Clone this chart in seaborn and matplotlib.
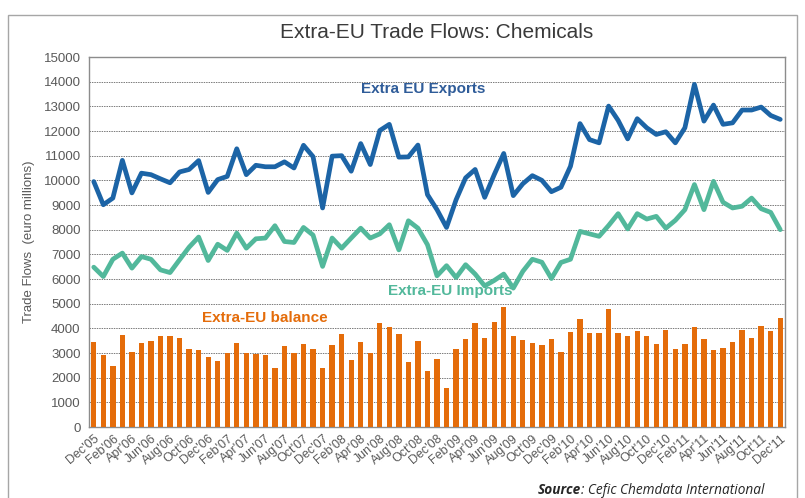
import matplotlib
matplotlib.use("Agg")
import numpy as np
import pandas as pd
import matplotlib.pyplot as plt
import seaborn as sns
from matplotlib.patches import Rectangle

BLUE   = "#1C64A6"
TEAL   = "#52B89B"
ORANGE = "#E46C0A"
GRID   = "#7A7A7A"
MUTED  = "#595959"
FONT   = ["Liberation Sans Narrow", "Liberation Sans", "DejaVu Sans"]

# monthly data, Dec'05 .. Dec'11 (euro millions)
months = pd.date_range("2005-12-01", periods=73, freq="MS").strftime("%b'%y").tolist()

exports = [9950, 9010, 9280, 10810, 9490, 10290, 10230, 10060, 9900, 10340,
           10440, 10800, 9510, 10030, 10160, 11280, 10230, 10610, 10550, 10550,
           10750, 10500, 11420, 10960, 8880, 10980, 11000, 10370, 11490, 10640,
           12020, 12270, 10940, 10950, 11430, 9420, 8810, 8090, 9210, 10100,
           10440, 9310, 10230, 11090, 9380, 9860, 10190, 10000, 9540, 9720,
           10570, 12300, 11650, 11520, 13010, 12430, 11680, 12500, 12130, 11860,
           11970, 11520, 12130, 13890, 12400, 13050, 12270, 12330, 12850, 12850,
           12970, 12630, 12470]

imports = [6480, 6100, 6800, 7050, 6440, 6910, 6800, 6370, 6260, 6780,
           7290, 7700, 6750, 7410, 7160, 7860, 7250, 7630, 7660, 8160,
           7520, 7480, 8090, 7780, 6510, 7660, 7250, 7660, 8060, 7660,
           7830, 8200, 7180, 8360, 8060, 7390, 6130, 6540, 6060, 6580,
           6200, 5720, 5940, 6200, 5630, 6310, 6800, 6680, 6020, 6670,
           6800, 7930, 7830, 7730, 8170, 8650, 8030, 8650, 8430, 8540,
           8060, 8380, 8810, 9830, 8810, 9960, 9110, 8880, 8950, 9280,
           8850, 8700, 8000]

balance = [3450, 2920, 2470, 3740, 3050, 3420, 3470, 3700, 3680, 3620,
           3160, 3110, 2840, 2660, 3010, 3420, 3010, 2960, 2910, 2410,
           3280, 3010, 3350, 3180, 2380, 3310, 3770, 2720, 3430, 3000,
           4220, 4050, 3770, 2620, 3500, 2270, 2770, 1570, 3160, 3550,
           4220, 3620, 4240, 4860, 3700, 3530, 3420, 3320, 3550, 3050,
           3860, 4390, 3810, 3810, 4800, 3810, 3680, 3890, 3700, 3350,
           3950, 3160, 3350, 4070, 3580, 3140, 3190, 3460, 3950, 3620,
           4110, 3880, 4430]

df = pd.DataFrame({"idx": np.arange(len(months)), "month": months,
                   "exports": exports, "imports": imports, "balance": balance})

sns.set_style("white")
plt.rcParams["font.family"] = FONT

fig = plt.figure(figsize=(8.05, 4.98), dpi=100)
fig.patch.set_facecolor("white")

# light frame round the whole chart
fig.add_artist(Rectangle((8/805, -0.05), 789/805, 1.05 - 15/498,
                         transform=fig.transFigure, fill=False,
                         edgecolor="#A6A6A6", linewidth=1.0))

ax = fig.add_axes([89/805, 71/498, 696/805, 370/498])

sns.barplot(data=df, x="idx", y="balance", color=ORANGE, width=0.56,
            saturation=1, linewidth=0, ax=ax, zorder=3)
sns.lineplot(data=df, x="idx", y="exports", color=BLUE, linewidth=3.4, ax=ax, zorder=4)
sns.lineplot(data=df, x="idx", y="imports", color=TEAL, linewidth=3.4, ax=ax, zorder=4)

ax.set_xlim(-0.5, len(months) - 0.5)
ax.set_ylim(0, 15000)
ax.set_yticks(range(0, 15001, 1000))
ax.set_yticklabels([str(v) for v in range(0, 15001, 1000)], fontsize=9.5, color=MUTED)
ax.yaxis.grid(True, color=GRID, linestyle=(0, (1.5, 1)), linewidth=0.7, zorder=0)
ax.set_axisbelow(True)
ax.tick_params(axis="y", length=3, color="#999999", pad=3)

ticks = list(range(0, len(months), 2))
ax.set_xticks(ticks)
ax.set_xticklabels([months[i] for i in ticks], rotation=40, ha="right",
                   rotation_mode="anchor", fontsize=9, color=MUTED)
ax.tick_params(axis="x", length=0, pad=4)

for s in ax.spines.values():
    s.set_color("#8C8C8C"); s.set_linewidth(1.0)

ax.set_xlabel("")
ax.set_ylabel("Trade Flows  (euro millions)", fontsize=9.5, color=MUTED, labelpad=6)

# labels placed in pixels measured from the top-left of the image
def px_text(x, y, s, **kw):
    return fig.text(x / 805, 1 - y / 498, s, **kw)

px_text(423, 89, "Extra EU Exports", fontsize=11, fontweight="bold",
        color="#2F5C99", ha="center", va="center")
px_text(450, 291, "Extra-EU Imports", fontsize=11, fontweight="bold",
        color=TEAL, ha="center", va="center")
px_text(265, 318, "Extra-EU balance", fontsize=11, fontweight="bold",
        color=ORANGE, ha="center", va="center")

px_text(437, 33, "Extra-EU Trade Flows: Chemicals", fontsize=15,
        color="#3A3A3A", ha="center", va="center")

src_font = dict(fontsize=9.8, fontstyle="italic", family=["Open Sans", "DejaVu Sans"],
                color="#262626", va="center")
t1 = px_text(538, 490, "Source", fontweight="bold", ha="left", **src_font)
renderer = fig.canvas.get_renderer()
bb = t1.get_window_extent(renderer)
fig.text(bb.x1 / fig.bbox.width, 1 - 490 / 498, ": Cefic Chemdata International",
         ha="left", **src_font)

fig.savefig("out.png", dpi=100, facecolor="white")
